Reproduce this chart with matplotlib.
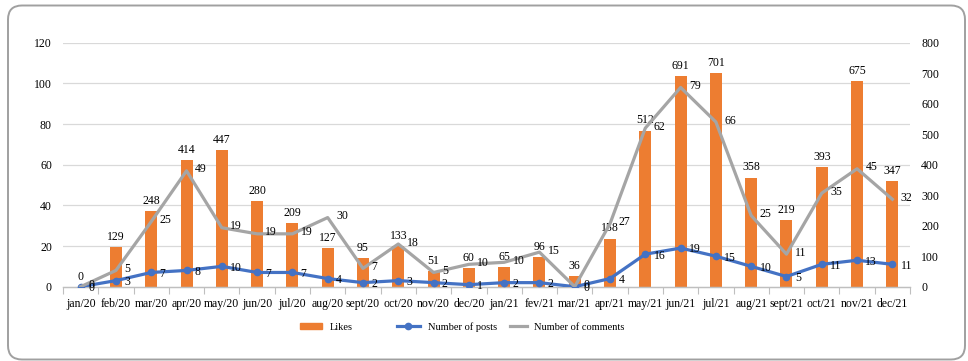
import numpy as np
import matplotlib
matplotlib.use('Agg')
import matplotlib.pyplot as plt
from matplotlib.patches import FancyBboxPatch, Patch
from matplotlib.lines import Line2D
from matplotlib.ticker import MultipleLocator, FixedLocator

plt.rcParams['font.family'] = ['Liberation Serif', 'DejaVu Serif']

# Datos mensuales
meses = ['jan/20', 'feb/20', 'mar/20', 'apr/20', 'may/20', 'jun/20', 'jul/20', 'aug/20',
         'sept/20', 'oct/20', 'nov/20', 'dec/20', 'jan/21', 'fev/21', 'mar/21', 'apr/21',
         'may/21', 'jun/21', 'jul/21', 'aug/21', 'sept/21', 'oct/21', 'nov/21', 'dec/21']
likes = [0, 129, 248, 414, 447, 280, 209, 127, 95, 133, 51, 60,
         65, 96, 36, 158, 512, 691, 701, 358, 219, 393, 675, 347]
posts = [0, 3, 7, 8, 10, 7, 7, 4, 2, 3, 2, 1,
         2, 2, 0, 4, 16, 19, 15, 10, 5, 11, 13, 11]
comentarios = [0, 5, 25, 49, 19, 19, 19, 30, 7, 18, 5, 10,
               10, 15, 0, 27, 62, 79, 66, 25, 11, 35, 45, 32]
series = ['Likes', 'Number of posts', 'Number of comments']

NARANJA = '#ED7D31'
AZUL = '#4472C4'
GRIS = '#A5A5A5'
FS = 8.5

x = np.arange(len(meses))
# lineas apiladas: comentarios se dibujan sobre los posts
apilado = np.array(posts) + np.array(comentarios)

fig = plt.figure(figsize=(9.68, 3.61), dpi=100)
ax = fig.add_axes([63 / 968, 74.3 / 361, 847 / 968, 244 / 361])  # barras (eje derecho)
ax2 = ax.twinx()  # lineas (eje izquierdo)

# rejilla segun el eje izquierdo
for v in range(20, 121, 20):
    ax.axhline(v * 800 / 120, color='#D9D9D9', lw=0.9, zorder=0)

ax.bar(x, likes, width=0.34, color=NARANJA, zorder=2)
for xi, v in zip(x, likes):
    ax.annotate(str(v), (xi, v), xytext=(0, 3), textcoords='offset points',
                ha='center', va='bottom', fontsize=FS)

ax2.plot(x, posts, color=AZUL, lw=2.3, marker='o', ms=4.5, zorder=3)
ax2.plot(x, apilado, color=GRIS, lw=2.3, zorder=3)
for xi, p, c, s in zip(x, posts, comentarios, apilado):
    ax2.annotate(str(p), (xi, p), xytext=(6, -1), textcoords='offset points',
                 ha='left', va='center', fontsize=FS)
    ax2.annotate(str(c), (xi, s), xytext=(6, 1), textcoords='offset points',
                 ha='left', va='center', fontsize=FS)

ax.set_xlim(-0.5, len(meses) - 0.5)
ax.set_ylim(0, 800)
ax2.set_ylim(0, 120)

ax.yaxis.set_major_locator(MultipleLocator(100))
ax2.yaxis.set_major_locator(MultipleLocator(20))
ax.yaxis.tick_right()
ax2.yaxis.tick_left()
ax.tick_params(axis='y', length=0, pad=8, labelsize=FS)
ax2.tick_params(axis='y', length=0, pad=8, labelsize=FS)

ax.set_xticks(x)
ax.set_xticklabels(meses, fontsize=FS)
ax.xaxis.set_minor_locator(FixedLocator(np.arange(-0.5, len(meses), 1)))
ax.tick_params(axis='x', which='major', length=0, pad=8)
ax.tick_params(axis='x', which='minor', length=5, color='#BFBFBF', width=0.8)

for a in (ax, ax2):
    for lado in ('top', 'left', 'right'):
        a.spines[lado].set_visible(False)
    a.spines['bottom'].set_color('#BFBFBF')
    a.spines['bottom'].set_linewidth(0.9)

# leyenda: una entrada por serie para ubicar cada una
handles = [Patch(color=NARANJA),
           Line2D([], [], color=AZUL, lw=2.3, marker='o', ms=4.5),
           Line2D([], [], color=GRIS, lw=2.3)]
pos_x = [300, 397, 510]
largos = [2.1, 2.2, 1.6]
for h, nombre, px, hl in zip(handles, series, pos_x, largos):
    fig.legend([h], [nombre], loc='center left', bbox_to_anchor=(px / 968, 1 - 327 / 361),
               frameon=False, fontsize=7.5, handlelength=hl, handleheight=0.55,
               handletextpad=0.75, borderpad=0, borderaxespad=0)

# marco redondeado
marco = FancyBboxPatch((8, 1.5), 957, 354, boxstyle='round,pad=0,rounding_size=14',
                       transform=None, fill=False, edgecolor='#A0A0A0', lw=1.4)
fig.patches.append(marco)

fig.savefig('out.png', dpi=100)
